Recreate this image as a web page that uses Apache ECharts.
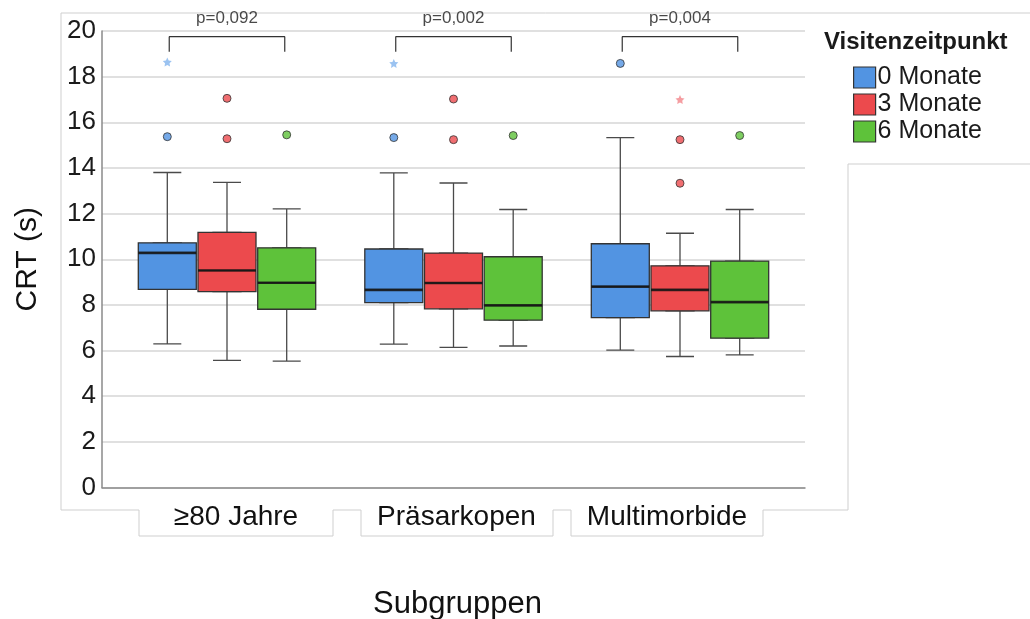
<!DOCTYPE html>
<html>
<head>
<meta charset="utf-8">
<script src="https://cdn.jsdelivr.net/npm/echarts@6/dist/echarts.min.js"></script>
<style>
html, body { margin: 0; padding: 0; background: #fff; }
#chart { width: 1030px; height: 619px; }
</style>
</head>
<body>
<div id="chart"></div>
<script>
/* CRT boxplots per subgroup and visit */

var categories = ['≥80 Jahre', 'Präsarkopen', 'Multimorbide'];
var visitNames = ['0 Monate', '3 Monate', '6 Monate'];

// [min, Q1, median, Q3, max] per subgroup
var box0 = [[6.29, 8.68, 10.28, 10.72, 13.80], [6.28, 8.10, 8.66, 10.45, 13.78], [6.02, 7.44, 8.80, 10.68, 15.33]];
var box3 = [[5.57, 8.58, 9.51, 11.18, 13.37], [6.14, 7.83, 8.96, 10.27, 13.34], [5.74, 7.74, 8.66, 9.71, 11.14]];
var box6 = [[5.54, 7.81, 8.97, 10.50, 12.21], [6.20, 7.33, 7.98, 10.11, 12.18], [5.81, 6.54, 8.12, 9.92, 12.18]];

// [subgroup index, value]
var outliers0 = [[0, 15.37], [1, 15.33], [2, 18.58]];
var outliers3 = [[0, 17.05], [0, 15.28], [1, 17.02], [1, 15.24], [2, 15.24], [2, 13.33]];
var outliers6 = [[0, 15.45], [1, 15.42], [2, 15.42]];
var extremes0 = [[0, 18.64], [1, 18.58]];
var extremes3 = [[2, 17.00]];
var extremes6 = [];

var pLabels = ['p=0,092', 'p=0,002', 'p=0,004'];

var yMin = 0, yMax = 20, yStep = 2;

var colors = ['#5294e2', '#ec4a4d', '#5ec23a'];
var starColors = ['#82b4ee', '#f3848a', '#8fd674'];
var boxes = [box0, box3, box6];
var outliers = [outliers0, outliers3, outliers6];
var extremes = [extremes0, extremes3, extremes6];

var FONT = "'Liberation Sans', Arial, sans-serif";
var STAR = 'path://M0,-10L2.9,-4L9.5,-3.1L4.7,1.5L5.9,8.1L0,5L-5.9,8.1L-4.7,1.5L-9.5,-3.1L-2.9,-4Z';

// layout: one grid per visit, shifted sideways so the three boxes sit next to each other
var bandW = 226.5, pitch = 59.7, plotLeft = 113.75;
var offsets = [-1, 0, 1];

var grids = [], xAxes = [], yAxes = [];
for (var i = 0; i < 3; i++) {
	grids.push({ left: plotLeft + offsets[i] * pitch, width: bandW * 3, top: 31, height: 456.5, outerBoundsMode: 'none' });
	yAxes.push({ type: 'value', gridIndex: i, min: yMin, max: yMax, interval: yStep, show: false });
	// box axis (index 2i) and whisker axis (index 2i+1)
	xAxes.push({ type: 'category', gridIndex: i, data: categories, show: false });
	xAxes.push({ type: 'category', gridIndex: i, data: categories, show: false, position: 'top' });
}
// background grid with ticks, gridlines and titles
grids.push({ left: 102, width: 703, top: 31, height: 456.5, outerBoundsMode: 'none' });
xAxes.push({
	type: 'value', gridIndex: 3, min: 0, max: 1, position: 'bottom',
	axisLine: { show: true, onZero: false, lineStyle: { color: '#8a8a8a', width: 1.5 } },
	axisTick: { show: false }, axisLabel: { show: false }, splitLine: { show: false }
});
yAxes.push({
	type: 'value', gridIndex: 3, min: yMin, max: yMax, interval: yStep,
	name: 'CRT (s)', nameLocation: 'middle', nameGap: 59, nameRotate: 90,
	nameTextStyle: { fontFamily: FONT, fontSize: 30, color: '#111' },
	axisLine: { show: true, lineStyle: { color: '#8a8a8a', width: 1.5 } },
	axisTick: { show: false },
	axisLabel: { fontFamily: FONT, fontSize: 26, color: '#1a1a1a', margin: 6 },
	splitLine: { show: true, lineStyle: { color: '#d6d6d6', width: 1.5 } }
});
var PTS = xAxes.length;
// value x axis on the middle grid for points, medians, brackets
xAxes.push({ type: 'value', gridIndex: 1, min: -0.5, max: 2.5, show: false, position: 'top' });
// category labels on the middle grid (nudged into their label boxes)
var labelStyle = { fontFamily: FONT, fontSize: 28, color: '#111' };
xAxes.push({
	type: 'category', gridIndex: 1, data: categories, position: 'bottom',
	name: 'Subgruppen', nameLocation: 'middle', nameGap: 101,
	nameTextStyle: { fontFamily: FONT, fontSize: 31, color: '#111', padding: [0, 0, 0, 8] },
	axisLine: { show: false, onZero: false }, axisTick: { show: false }, splitLine: { show: false },
	axisLabel: {
		fontFamily: FONT, fontSize: 28, color: '#111', margin: 16, interval: 0, hideOverlap: false,
		formatter: function (v, idx) { return '{c' + idx + '|' + v + '}'; },
		rich: {
			c0: Object.assign({ padding: [0, 0, 0, 18] }, labelStyle),
			c1: Object.assign({ padding: [0, 0, 0, 6] }, labelStyle),
			c2: Object.assign({ padding: [0, 26, 0, 0] }, labelStyle)
		}
	}
});
var off = pitch / bandW;

var series = [];
for (var i = 0; i < 3; i++) {
	series.push({
		name: 'w' + i, type: 'boxplot', xAxisIndex: 2 * i + 1, yAxisIndex: i,
		boxWidth: [28, 28], silent: true,
		itemStyle: { color: '#fff', borderColor: '#4a4a4a', borderWidth: 1.3 },
		data: boxes[i]
	});
}
for (var i = 0; i < 3; i++) {
	series.push({
		name: visitNames[i], type: 'boxplot', xAxisIndex: 2 * i, yAxisIndex: i,
		boxWidth: [58, 58], silent: true,
		itemStyle: { color: colors[i], borderColor: '#333', borderWidth: 1.3 },
		data: boxes[i].map(function (b) { return [b[1], b[1], b[2], b[3], b[3]]; })
	});
}
for (var i = 0; i < 3; i++) {
	var dx = offsets[i] * off;
	series.push({
		type: 'scatter', xAxisIndex: PTS, yAxisIndex: 1, silent: true, z: 5,
		symbol: 'rect', symbolSize: [58, 2.6],
		itemStyle: { color: '#111' },
		data: boxes[i].map(function (b, g) { return [g + dx, b[2]]; })
	});
	series.push({
		type: 'scatter', xAxisIndex: PTS, yAxisIndex: 1, silent: true, z: 5,
		symbol: 'circle', symbolSize: 8,
		itemStyle: { color: colors[i], borderColor: '#333', borderWidth: 1 },
		data: outliers[i].map(function (p) { return [p[0] + dx, p[1]]; })
	});
	series.push({
		type: 'scatter', xAxisIndex: PTS, yAxisIndex: 1, silent: true, z: 5,
		symbol: STAR, symbolSize: 9,
		itemStyle: { color: starColors[i] },
		data: extremes[i].map(function (p) { return [p[0] + dx, p[1]]; })
	});
}
for (var g = 0; g < 3; g++) {
	series.push({
		type: 'line', xAxisIndex: PTS, yAxisIndex: 1, silent: true, clip: false,
		symbol: 'none', lineStyle: { color: '#333', width: 1.2 },
		data: [[g - 0.255, 19.09], [g - 0.255, 19.75], [g + 0.255, 19.75], [g + 0.255, 19.09]]
	});
}
series.push({
	type: 'scatter', xAxisIndex: PTS, yAxisIndex: 1, silent: true, clip: false,
	symbolSize: 1, itemStyle: { color: 'rgba(0,0,0,0)' },
	label: {
		show: true, position: 'inside', fontFamily: FONT, fontSize: 17, color: '#1a1a1a',
		formatter: function (p) { return pLabels[p.dataIndex]; }
	},
	data: pLabels.map(function (t, g) { return [g, 20.57]; })
});

var myChart = echarts.init(document.getElementById('chart'));
var option = {
	animation: false,
	backgroundColor: '#fff',
	textStyle: { fontFamily: FONT },
	title: {
		text: 'Visitenzeitpunkt', left: 824, top: 30, padding: 0,
		textStyle: { fontFamily: FONT, fontSize: 24, fontWeight: 'bold', color: '#1a1a1a' }
	},
	legend: {
		data: visitNames.map(function (n, i) {
			return { name: n, itemStyle: { color: colors[i], borderColor: '#333', borderWidth: 1.2 } };
		}),
		orient: 'vertical', left: 853, top: 65, padding: 0,
		itemWidth: 22, itemHeight: 21, itemGap: 2, icon: 'rect',
		textStyle: { fontFamily: FONT, fontSize: 25, lineHeight: 25, color: '#1a1a1a', padding: [0, 0, 0, -3] }
	},
	grid: grids,
	xAxis: xAxes,
	yAxis: yAxes,
	graphic: [{
		type: 'polyline', silent: true, z: -1,
		shape: { points: [[1030, 164], [848, 164], [848, 510], [763, 510], [763, 536], [571, 536], [571, 510],
			[553, 510], [553, 536], [361, 536], [361, 510], [333, 510], [333, 536], [139, 536], [139, 510],
			[61, 510], [61, 13], [1030, 13]] },
		style: { stroke: '#cfcfcf', lineWidth: 1, fill: null }
	}],
	series: series
};
myChart.setOption(option);
</script>
</body>
</html>
